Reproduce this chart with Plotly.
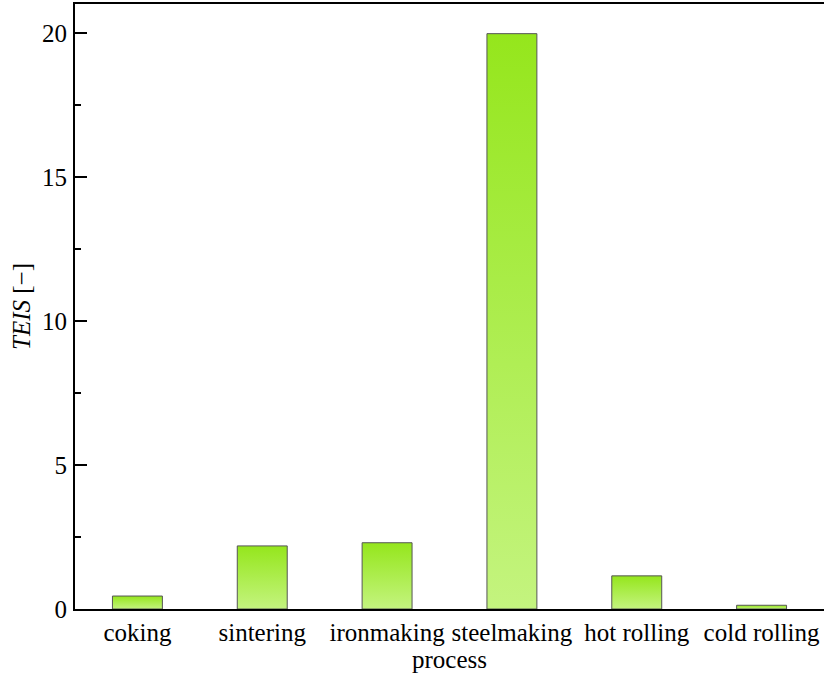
import plotly.graph_objects as go

categories = ["coking", "sintering", "ironmaking", "steelmaking", "hot rolling", "cold rolling"]
teis = [0.45, 2.19, 2.30, 19.97, 1.15, 0.13]

bar_half = 0.2
top_color = "#95e61c"
bottom_color = "#c4f47f"

fig = go.Figure()
for i, v in enumerate(teis):
    xs = [i - bar_half, i + bar_half, i + bar_half, i - bar_half, i - bar_half]
    ys = [0, 0, v, v, 0]
    fig.add_trace(go.Scatter(
        x=xs, y=ys, mode="lines", fill="toself",
        line=dict(color="#555555", width=1),
        fillgradient=dict(type="vertical", colorscale=[[0, bottom_color], [1, top_color]],
                          start=0, stop=v),
        showlegend=False, hoverinfo="skip",
    ))

font = dict(family="Liberation Serif", size=25, color="black")
fig.update_layout(
    width=824, height=679,
    margin=dict(l=75, r=0, t=4, b=70),
    paper_bgcolor="white", plot_bgcolor="white",
    font=font,
    xaxis=dict(
        range=[-0.5, 5.5], tickmode="array", tickvals=list(range(len(categories))),
        ticktext=categories, ticks="", showgrid=False, zeroline=False,
        showline=True, linecolor="black", linewidth=2, mirror=True,
        title=dict(text="process", font=font, standoff=3),
        tickfont=font,
    ),
    yaxis=dict(
        range=[0, 21], tickmode="array", tickvals=[0, 5, 10, 15, 20],
        ticks="inside", ticklen=12, tickwidth=2, tickcolor="black",
        minor=dict(tickmode="array", tickvals=[2.5, 7.5, 12.5, 17.5], ticks="inside", ticklen=6, tickwidth=2, tickcolor="black", showgrid=False),
        showgrid=False, zeroline=False, showline=True, linecolor="black", linewidth=2,
        ticklabelstandoff=1,
        title=dict(text="<i>TEIS</i> [−]", font=font, standoff=4),
        tickfont=font,
    ),
)
fig.write_html("out.html", config={"displayModeBar": False},
               post_script="document.body.style.margin='0px';")
